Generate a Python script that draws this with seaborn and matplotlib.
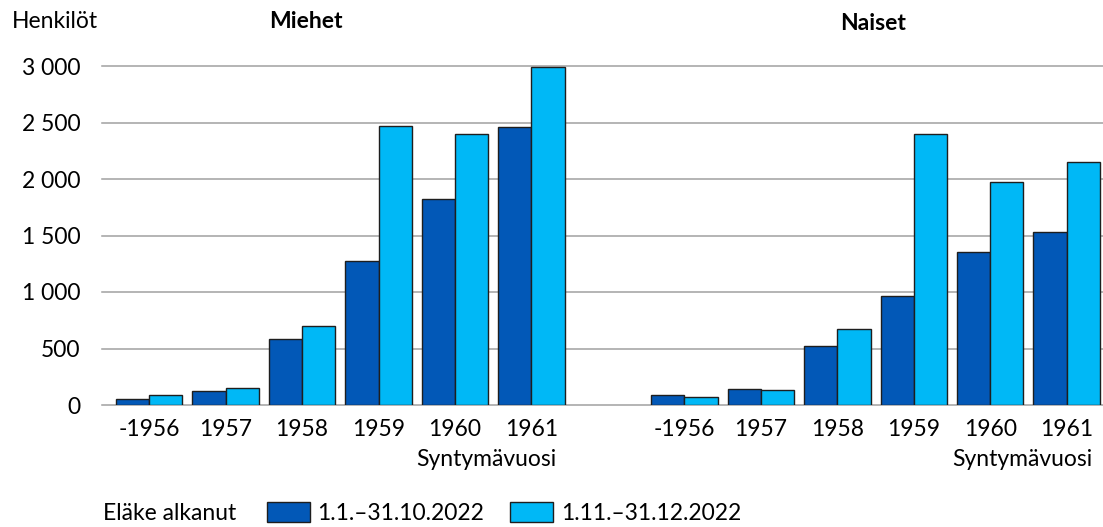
import pandas as pd
import numpy as np
import seaborn as sns
import matplotlib.pyplot as plt
from matplotlib.ticker import FuncFormatter

# syntymävuodet ja eläkkeen alkamisjaksot
years = ["-1956", "1957", "1958", "1959", "1960", "1961"]
periods = ["1.1.–31.10.2022", "1.11.–31.12.2022"]
men_early = [50, 125, 580, 1270, 1820, 2460]
men_late = [85, 150, 700, 2465, 2400, 2995]
women_early = [85, 138, 523, 965, 1350, 1530]
women_late = [67, 132, 673, 2395, 1971, 2154]
colors = ["#0258B7", "#00B8F6"]

plt.rcParams["font.family"] = ["Lato", "DejaVu Sans"]
plt.rcParams["font.size"] = 16.5

rows = []
for grp, early, late in [("Miehet", men_early, men_late), ("Naiset", women_early, women_late)]:
  for y, e, l in zip(years, early, late):
    rows.append({"slot": f"{grp} {y}", "period": periods[0], "count": e})
    rows.append({"slot": f"{grp} {y}", "period": periods[1], "count": l})
data = pd.DataFrame(rows)
# tyhjä väli miesten ja naisten välissä
order = [f"Miehet {y}" for y in years] + ["väli"] + [f"Naiset {y}" for y in years]

W, H = 1103, 527
fig = plt.figure(figsize=(W / 100, H / 100), dpi=100)
ax = fig.add_axes([101.7 / W, 122 / H, (W - 101.7) / W, 339 / H])

sns.barplot(
  data=data, x="slot", y="count", hue="period", order=order, hue_order=periods,
  palette=colors, saturation=1, width=0.87, edgecolor="#1e1e1e", linewidth=1.0,
  errorbar=None, ax=ax
)

ax.set_ylim(0, 3000)
ax.set_yticks(np.arange(0, 3001, 500))
ax.yaxis.set_major_formatter(FuncFormatter(lambda v, p: f"{v:,.0f}".replace(",", " ")))
ax.set_xticks(range(len(order)))
ax.set_xticklabels(years + [""] + years)
ax.set_xlim(-0.621, 12.475)
ax.set_xlabel("")
ax.set_ylabel("")
ax.tick_params(axis="both", length=0, labelsize=16.5)
ax.tick_params(axis="y", pad=15.5)
ax.tick_params(axis="x", pad=10)
ax.set_axisbelow(True)
ax.grid(axis="y", color="#a0a0a0", linewidth=1.1)
for gl in ax.get_ygridlines():
  gl.set_clip_on(False)
for s in ax.spines.values():
  s.set_visible(False)

# akselin nimet
for xpos in [5.33, 12.33]:
  ax.text(xpos, -0.162, "Syntymävuosi", transform=ax.get_xaxis_transform(),
          ha="right", va="center", fontsize=16.5)

fig.text(12 / W, 1 - 22 / H, "Henkilöt", ha="left", va="center", fontsize=16.5)
fig.text(306 / W, 1 - 22 / H, "Miehet", ha="center", va="center", fontsize=16.5, fontweight="bold")
fig.text(873 / W, 1 - 23 / H, "Naiset", ha="center", va="center", fontsize=16.5, fontweight="bold")

# selite
fig.text(103 / W, 14 / H, "Eläke alkanut", ha="left", va="center", fontsize=16.5)
sns.move_legend(
  ax, "center left", bbox_to_anchor=(266.7 / W, 14 / H), bbox_transform=fig.transFigure,
  ncol=2, frameon=False, title=None, handlelength=1.87, handleheight=0.96,
  handletextpad=0.35, columnspacing=1.13, borderpad=0, borderaxespad=0, fontsize=16.5
)

plt.savefig("out.png", dpi=100)
